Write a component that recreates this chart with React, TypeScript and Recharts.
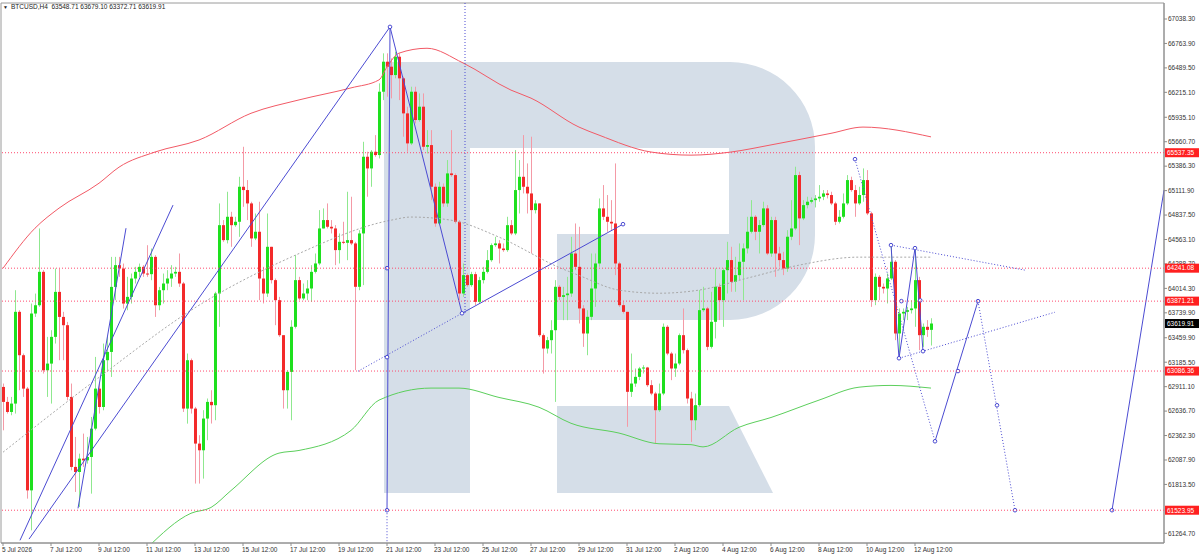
import React from 'react';
import {
  ComposedChart,
  Bar,
  Line,
  XAxis,
  YAxis,
  ReferenceLine,
  ReferenceDot,
  ReferenceArea,
} from 'recharts';

// H4 candles, bar 0 = 5 Jul 12:00. open of each bar = previous close
const firstOpen = 62908;
const closes = [
  62740, 62627, 62721, 63751, 63264, 62889, 61747, 63732, 63825, 64200,
  63095, 63170, 63470, 63975, 63694, 63601, 62796, 62010, 61953, 62103,
  62084, 62122, 62440, 62889, 62683, 63208, 63301, 64031, 64275, 64237,
  63844, 63919, 64125, 64200, 64256, 64181, 64174, 64368, 63825, 63994,
  64069, 64125, 64181, 64200, 64069, 62665, 63208, 62665, 62272, 62197,
  62553, 62740, 62703, 63957, 64724, 64556, 64818, 64724, 64762, 65155,
  65118, 64968, 64575, 64650, 64125, 63957, 64481, 64107, 63882, 63489,
  62871, 63077, 63583, 64107, 63901, 63957, 64013, 64200, 64294, 64687,
  64781, 64706, 64687, 64444, 64537, 64526, 64556, 64519, 64032, 64631,
  65492, 65361, 65548, 65511, 66222, 66559, 66503, 66409, 66615, 66372,
  65979, 65642, 66222, 65904, 66054, 65604, 65623, 65155, 64743, 65155,
  64968, 65305, 65286, 64762, 63957, 64163, 64051, 64174, 63863, 64107,
  64200, 64331, 64500, 64519, 64462, 64444, 64724, 64631, 65118, 65267,
  65155, 65080, 64893, 64968, 63489, 63339, 63433, 63545, 64032, 63919,
  63938, 63957, 64406, 64256, 63789, 63508, 63695, 64013, 64294, 64912,
  64818, 64762, 64743, 64294, 63826, 63751, 62853, 62946, 63021, 63115,
  63126, 62928, 62834, 62647, 62834, 63583, 63283, 63115, 63171, 63489,
  63321, 62778, 62534, 62703, 63770, 63789, 63358, 63639, 64032, 63882,
  64219, 64332, 64088, 64163, 64313, 64463, 64650, 64818, 64650, 64725,
  64912, 64406, 64781, 64406, 64332, 64238, 64594, 64687, 65286, 64800,
  64949, 64987, 65005, 65024, 65043, 65080, 65062, 64968, 64762, 64818,
  64968, 65230, 65118, 64968, 65062, 65230, 64856, 63882, 64144, 64032,
  64013, 64126, 64313, 63508, 63732, 63751, 63770, 63789, 64107, 63489,
  63583, 63548.71, 63619.91,
];
const highs = [
  62946, 62796, 62796, 63994, 63769, 63283, 62908, 63844, 63956, 64687,
  64219, 63470, 63545, 64237, 64237, 63751, 63638, 62946, 62347, 62159,
  62384, 62347, 62571, 63245, 62946, 63395, 63470, 64368, 64368, 64368,
  64293, 64144, 64181, 64256, 64293, 64275, 64499, 64462, 64387, 64031,
  64181, 64219, 64275, 64256, 64406, 64087, 63283, 63227, 62684, 62366,
  62647, 62778, 62871, 63976, 64968, 64781, 65099, 64874, 64818, 65267,
  65604, 65230, 64987, 64855, 64987, 64256, 64855, 64481, 64125, 63919,
  63489, 63096, 63657, 64387, 64144, 64069, 64107, 64275, 64406, 64893,
  64912, 64968, 64781, 64724, 64631, 64762, 65099, 65043, 64537, 64668,
  65660, 65548, 65567, 65735, 66316, 66653, 66653, 66596, 66671, 66653,
  66391, 66054, 66278, 66278, 66203, 66203, 65791, 65791, 65192, 65211,
  65192, 65455, 65791, 65305, 64781, 64294, 64182, 64200, 64200, 64144,
  64256, 64444, 64519, 64593, 64556, 64519, 64818, 64781, 65567, 65455,
  65735, 65417, 65717, 65005, 64968, 63508, 63470, 63657, 64107, 64051,
  64032, 64144, 64593, 64743, 64706, 63826, 63770, 64406, 64406, 65024,
  65174, 65062, 65005, 65417, 64313, 63864, 63751, 63283, 63115, 63133,
  63152, 63133, 62984, 62853, 62946, 63620, 63601, 63302, 63283, 63508,
  63789, 63339, 62853, 62834, 63995, 64032, 63807, 63976, 64238, 64069,
  64238, 64537, 64481, 64369, 64519, 64519, 64818, 65005, 64837, 64781,
  64987, 64949, 64818, 64818, 64481, 64425, 64668, 65005, 65380, 65324,
  65005, 65043, 65035, 65062, 65174, 65118, 65118, 65099, 64987, 64893,
  65080, 65286, 65268, 65174, 65155, 65361, 65342, 64874, 64182, 64163,
  64069, 64182, 64500, 64332, 63789, 63789, 63807, 63882, 64463, 64144,
  63620, 63658, 63679.1,
];
const lows = [
  62421, 62609, 62590, 62609, 62871, 62796, 61654, 61298, 63694, 63807,
  63058, 62796, 62721, 63395, 63208, 63208, 62758, 61972, 61729, 61560,
  62010, 62047, 61710, 62421, 62609, 62646, 63095, 63020, 63882, 64144,
  63788, 63769, 63844, 64069, 64144, 64144, 64144, 64106, 63694, 63769,
  63844, 63994, 64031, 64144, 64031, 62627, 62496, 62609, 61823, 61823,
  61879, 62310, 62497, 62534, 63583, 64537, 64519, 64481, 64706, 64593,
  64930, 64781, 64481, 64556, 63882, 63845, 63919, 64069, 63601, 63470,
  62665, 62665, 62534, 63564, 63882, 63882, 63882, 63863, 64182, 64275,
  64687, 64687, 64631, 64275, 64294, 64511, 64331, 64500, 63096, 63994,
  64051, 65043, 65155, 65492, 65473, 66128, 66166, 66147, 66372, 66128,
  65717, 65548, 65623, 65866, 65885, 65567, 65529, 65005, 64706, 64724,
  64930, 64930, 65267, 64743, 63882, 63919, 64032, 64032, 63826, 63845,
  64069, 64182, 64313, 64481, 64294, 64425, 64425, 64612, 64612, 64855,
  65080, 64855, 64406, 64855, 63470, 63058, 63283, 63283, 62740, 63882,
  63657, 63657, 63919, 64219, 63620, 63358, 63264, 63658, 63807, 64257,
  64781, 64650, 64668, 64163, 63807, 63732, 62460, 62796, 62909, 62984,
  63059, 62909, 62815, 62272, 62628, 62815, 63264, 62984, 63021, 63152,
  63283, 62722, 62291, 62422, 62684, 63751, 63321, 63339, 63452, 63658,
  63583, 63957, 63976, 63976, 64107, 63882, 64406, 64631, 64556, 64406,
  64706, 64388, 64369, 64144, 64257, 64163, 64200, 64556, 64668, 64500,
  64781, 64912, 64968, 64923, 64987, 65005, 65024, 64949, 64725, 64743,
  64800, 64949, 65099, 64818, 64949, 64987, 64837, 63807, 63826, 63882,
  63957, 63845, 64107, 63433, 63283, 63658, 63658, 63732, 63583, 63321,
  63358, 63470, 63372.71,
];

// moving averages, read at a few bars
const maRedBars = [0, 8, 14, 24, 29, 38, 49, 62, 74, 87, 94, 96, 99, 106, 115, 127, 132, 144, 149, 162, 172, 182, 192, 207, 215, 232];
const maRedVals = [64240, 64690, 64915, 65195, 65375, 65545, 65680, 65980, 66130, 66265, 66355, 66500, 66655, 66710, 66545, 66240, 66150, 65825, 65735, 65545, 65510, 65545, 65625, 65755, 65825, 65715];
const maGreenBars = [36, 47, 52, 57, 69, 74, 87, 94, 107, 114, 124, 134, 142, 154, 164, 172, 175, 184, 192, 204, 214, 222, 232];
const maGreenVals = [61100, 61490, 61555, 61745, 62165, 62195, 62420, 62760, 62895, 62895, 62790, 62680, 62500, 62390, 62270, 62260, 62235, 62455, 62565, 62760, 62905, 62925, 62895];
const maGreyBars = [0, 24, 49, 72, 97, 102, 112, 124, 139, 144, 154, 164, 174, 187, 199, 214, 232];
const maGreyVals = [62175, 63015, 63825, 64365, 64780, 64815, 64780, 64590, 64250, 64160, 63995, 63960, 63995, 64140, 64275, 64365, 64365];

const levelPrices = [65537.35, 64241.08, 63871.21, 63086.36, 61523.95];

const xTickBars = [0, 12, 24, 36, 48, 60, 72, 84, 96, 108, 120, 132, 144, 156, 168, 180, 192, 204, 216, 228];
const xTickLabels = [
  '5 Jul 2026', '7 Jul 12:00', '9 Jul 12:00', '11 Jul 12:00', '13 Jul 12:00',
  '15 Jul 12:00', '17 Jul 12:00', '19 Jul 12:00', '21 Jul 12:00', '23 Jul 12:00',
  '25 Jul 12:00', '27 Jul 12:00', '29 Jul 12:00', '31 Jul 12:00', '2 Aug 12:00',
  '4 Aug 12:00', '6 Aug 12:00', '8 Aug 12:00', '10 Aug 12:00', '12 Aug 12:00',
];
// 61539.10 sits fully under the 61523.95 tag in the reference, so it is left out
const yTicks = [
  61264.7, 61813.5, 62087.9, 62362.3, 62636.7, 62911.1, 63185.5, 63459.9, 63739.9,
  64014.3, 64288.7, 64563.1, 64837.5, 65111.9, 65386.3, 65660.7, 65935.1, 66215.1, 66489.5,
  66763.9, 67038.3,
];

// analysis drawings: [bar1, price1, bar2, price2]
const solidSegments = [
  [4.25, 61186, 42.5, 64949],
  [18.75, 61545, 30.75, 64690],
  [6.5, 61200, 96.75, 66950],
  [96.75, 66950, 96, 61524],
  [96.75, 66950, 114.75, 63735],
  [114.75, 63735, 155, 64735],
  [222, 64500, 224, 63230],
  [224, 63230, 228, 64466],
  [228, 64466, 230, 63309],
  [233, 62298, 243.75, 63871],
  [277.25, 61524, 290.25, 65117],
];
const dottedSegments = [
  [88.75, 63084, 114.75, 63735],
  [115.5, 67218, 115.5, 63735],
  [96, 61524, 96, 61156],
  [213, 65465, 233, 62298],
  [243.75, 63871, 253, 61524],
  [222, 64500, 255.5, 64219],
  [224, 63230, 263, 63747],
];
const markerBars = [96.75, 96, 96, 96, 114.75, 155, 213, 233, 238.75, 243.75, 248.5, 253, 277.25, 222, 224, 228, 230, 224.6, 229.3];
const markerPrices = [66950, 61524, 64241, 63242, 63735, 64735, 65465, 62298, 63086, 63871, 62702, 61524, 61524, 64500, 63230, 64466, 63309, 63871, 63880];

const W = 1200;
const H = 555;
const Y_MIN = 61156;
const Y_MAX = 67218;
const X_MIN = -0.5;
const X_MAX = 290.25;
const FONT = '"Liberation Sans", Arial, sans-serif';
const BLUE = '#4b4bd2';
const LEVEL = '#ff4a6e';

const rows: any[] = closes.map((close, i) => ({
  i,
  open: i === 0 ? firstOpen : closes[i - 1],
  high: highs[i],
  low: lows[i],
  close,
}));
maRedBars.forEach((b, k) => { rows[b].maRed = maRedVals[k]; });
maGreenBars.forEach((b, k) => { rows[b].maGreen = maGreenVals[k]; });
maGreyBars.forEach((b, k) => { rows[b].maGrey = maGreyVals[k]; });

const last = rows[rows.length - 1];

function Candle(props: any) {
  const { x, y, width, height, payload } = props;
  if (x == null || y == null) return null;
  const cx = Math.round(x + width / 2) + 0.5;
  const top = Math.min(y, y + height);
  const bottom = Math.max(y, y + height);
  const span = payload.high - payload.low || 1;
  const toPx = (v: number) => top + ((payload.high - v) / span) * (bottom - top);
  const up = payload.close >= payload.open;
  const yo = toPx(payload.open);
  const yc = toPx(payload.close);
  const bodyTop = Math.min(yo, yc);
  const bodyH = Math.max(1, Math.abs(yc - yo));
  return (
    <g>
      <line x1={cx} x2={cx} y1={top} y2={bottom} stroke={up ? '#8fe88f' : '#f49aa6'} strokeWidth={1} />
      <rect x={cx - 1.5} y={bodyTop} width={3} height={bodyH} fill={up ? '#1ee01e' : '#f32a2a'} />
    </g>
  );
}

function XTick(props: any) {
  const { x, y, payload } = props;
  const idx = xTickBars.indexOf(payload.value);
  return (
    <text x={x - 1} y={y + 6} textAnchor="start" fontSize={6.5} fontFamily={FONT} fill="#333">
      {xTickLabels[idx]}
    </text>
  );
}

function YTick(props: any) {
  const { x, y, payload } = props;
  return (
    <text x={x + 1} y={y + 2.3} textAnchor="start" fontSize={6.5} fontFamily={FONT} fill="#333">
      {payload.value.toFixed(2)}
    </text>
  );
}

const priceTag = (value: number, bg: string) => (props: any) => {
  const vb = props.viewBox || {};
  const yy = vb.y;
  const xx = vb.x + vb.width;
  return (
    <g>
      <rect x={xx + 1} y={yy - 4.5} width={34} height={9} fill={bg} />
      <text x={xx + 3} y={yy + 2.3} fontSize={6.5} fontFamily={FONT} fill="#fff">
        {value.toFixed(2)}
      </text>
    </g>
  );
};

function Watermark() {
  return (
    <svg width={W} height={H} style={{ position: 'absolute', left: 0, top: 0 }}>
      <path
        d="M384,62 L730,62 A85,85 0 0 1 815,147 L815,235 A85,85 0 0 1 730,320 L557,320 L557,234 L729,234 L729,148 L470,148 L470,493 L384,493 Z"
        fill="#d5dee8"
      />
      <path d="M557,406 L729,406 L773,493 L557,493 Z" fill="#d5dee8" />
    </svg>
  );
}

export default function App() {
  return (
    <div style={{ position: 'fixed', left: 0, top: 0, width: W, height: H, background: '#fff', overflow: 'hidden' }}>
      <Watermark />
      <div style={{ position: 'absolute', left: 0, top: 0 }}>
        <ComposedChart width={W} height={H} data={rows} margin={{ top: 3, right: 0, left: 1, bottom: 0 }}>
          <XAxis
            dataKey="i"
            type="number"
            domain={[X_MIN, X_MAX]}
            allowDataOverflow
            ticks={xTickBars}
            interval={0}
            tick={<XTick />}
            tickSize={3}
            tickMargin={0}
            height={12}
            stroke="#8c8c8c"
          />
          <YAxis
            orientation="right"
            type="number"
            domain={[Y_MIN, Y_MAX]}
            allowDataOverflow
            ticks={yTicks}
            interval={0}
            tick={<YTick />}
            tickSize={3}
            tickMargin={0}
            width={36}
            stroke="#8c8c8c"
          />
          <ReferenceArea x1={X_MIN} x2={X_MAX} y1={Y_MIN} y2={Y_MAX} fill="none" stroke="#9a9a9a" ifOverflow="visible" />
          {levelPrices.map((p) => (
            <ReferenceLine
              key={p}
              y={p}
              stroke={LEVEL}
              strokeDasharray="1 2"
              zIndex={2000}
              label={priceTag(p, '#ff2020')}
            />
          ))}
          <Bar
            dataKey={(d: any) => [d.low, d.high]}
            barSize={3}
            shape={(p: any) => <Candle {...p} />}
            isAnimationActive={false}
          />
          <Line dataKey="maGrey" type="monotone" connectNulls dot={false} stroke="#a8a8a8" strokeDasharray="2 2" strokeWidth={1} isAnimationActive={false} />
          <Line dataKey="maRed" type="monotone" connectNulls dot={false} stroke="#f25a66" strokeWidth={1} isAnimationActive={false} />
          <Line dataKey="maGreen" type="monotone" connectNulls dot={false} stroke="#5ccf5c" strokeWidth={1} isAnimationActive={false} />
          {solidSegments.map((s, k) => (
            <ReferenceLine
              key={'s' + k}
              segment={[{ x: s[0], y: s[1] }, { x: s[2], y: s[3] }]}
              stroke={BLUE}
              strokeWidth={1}
              ifOverflow="visible"
            />
          ))}
          {dottedSegments.map((s, k) => (
            <ReferenceLine
              key={'d' + k}
              segment={[{ x: s[0], y: s[1] }, { x: s[2], y: s[3] }]}
              stroke={BLUE}
              strokeDasharray="1 2"
              strokeWidth={1}
              ifOverflow="visible"
            />
          ))}
          {markerBars.map((b, k) => (
            <ReferenceDot key={'m' + k} x={b} y={markerPrices[k]} r={1.8} fill="#fff" stroke={BLUE} strokeWidth={1} ifOverflow="visible" />
          ))}
          <ReferenceLine y={last.close} stroke="none" zIndex={2000} label={priceTag(last.close, '#000')} />
        </ComposedChart>
      </div>
      <div
        style={{
          position: 'absolute',
          left: 3,
          top: 2,
          fontFamily: FONT,
          fontSize: 6.5,
          color: '#222',
          whiteSpace: 'pre',
          lineHeight: '9px',
        }}
      >
        <span style={{ fontSize: 5, marginRight: 3 }}>▼</span>
        {`BTCUSD,H4  ${last.open.toFixed(2)} ${last.high.toFixed(2)} ${last.low.toFixed(2)} ${last.close.toFixed(2)}`}
      </div>
    </div>
  );
}
